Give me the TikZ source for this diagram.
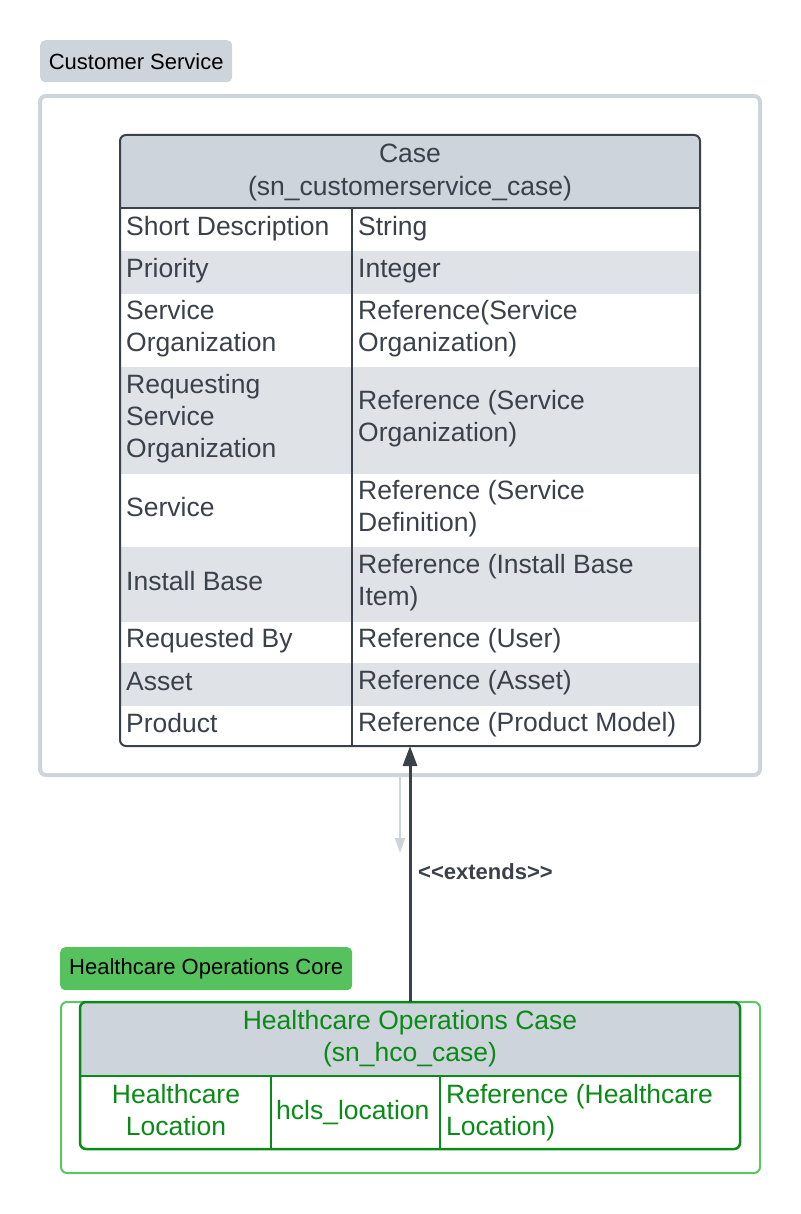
\documentclass[tikz,border=0pt]{standalone}
\usepackage{fontspec}
\setmainfont{Liberation Sans}
\usetikzlibrary{arrows.meta}
\definecolor{hdr}{HTML}{CED4DB}
\definecolor{stripe}{HTML}{DFE3E8}
\definecolor{ink}{HTML}{3A414A}
\definecolor{csline}{HTML}{CED4DB}
\definecolor{gfill}{HTML}{55C25E}
\definecolor{gline}{HTML}{5CC565}
\definecolor{gdark}{HTML}{0A8A17}
\begin{document}
\begin{tikzpicture}[x=1pt,y=-1pt,
  cell/.style={font=\fontsize{26.5}{32}\selectfont, text=ink, inner sep=0pt, align=left, anchor=west},
  gcell/.style={font=\fontsize{26.5}{32}\selectfont, text=gdark, inner sep=0pt, align=left, anchor=west},
  pkglabel/.style={font=\fontsize{22}{26}\selectfont, text=black, rounded corners=5, inner sep=0pt, anchor=north west},
  frame/.style={inner sep=0pt, outer sep=0pt, anchor=north west}]
\useasboundingbox (0,0) rectangle (800,1214);

% ---------- Customer Service package ----------
\node[pkglabel, fill=hdr, minimum width=192, minimum height=42] (cslabel) at (40,40) {Customer Service};
\node[frame, draw=csline, line width=4, rounded corners=6, minimum width=720, minimum height=679] (cs) at (40,96) {};

% Case table fills
\begin{scope}
  \clip[rounded corners=6] (120,135) rectangle (700,746);
  \fill[hdr] (120,135) rectangle (700,208.5);
  \fill[stripe] (120,251) rectangle (700,294);
  \fill[stripe] (120,367) rectangle (700,474);
  \fill[stripe] (120,547) rectangle (700,622);
  \fill[stripe] (120,663) rectangle (700,706);
\end{scope}
\node[frame, draw=ink, line width=2, rounded corners=6, minimum width=580, minimum height=611] (casetab) at (120,135) {};
\draw[ink, line width=2] (120,208.5) -- (700,208.5);
\draw[ink, line width=1.5] (352,208.5) -- (352,746);

\node[cell, anchor=center, align=center, font=\fontsize{26.5}{33}\selectfont] (casehdr) at (410,172.5) {Case\\(sn\_customerservice\_case)};

\node[cell] (l1) at (126,229) {Short Description};
\node[cell] (r1) at (358,229) {String};
\node[cell] (l2) at (126,271) {Priority};
\node[cell] (r2) at (358,271) {Integer};
\node[cell] (l3) at (126,329) {Service\\Organization};
\node[cell] (r3) at (358,329) {Reference(Service\\Organization)};
\node[cell] (l4) at (126,419) {Requesting\\Service\\Organization};
\node[cell] (r4) at (358,419) {Reference (Service\\Organization)};
\node[cell] (l5) at (126,507) {Service};
\node[cell] (r5) at (358,509) {Reference (Service\\Definition)};
\node[cell] (l6) at (126,581) {Install Base};
\node[cell] (r6) at (358,583) {Reference (Install Base\\Item)};
\node[cell] (l7) at (126,641) {Requested By};
\node[cell] (r7) at (358,641) {Reference (User)};
\node[cell] (l8) at (126,682) {Asset};
\node[cell] (r8) at (358,683) {Reference (Asset)};
\node[cell] (l9) at (126,723) {Product};
\node[cell] (r9) at (358,725) {Reference (Product Model)};

% ---------- Healthcare Operations Core package ----------
\node[pkglabel, fill=gfill, minimum width=292, minimum height=43] (hclabel) at (60,947) {Healthcare Operations Core};
\node[frame, draw=gline, line width=2, rounded corners=6, minimum width=699, minimum height=171] (hc) at (61,1002) {};

\begin{scope}
  \clip[rounded corners=6] (80,1002) rectangle (740,1149);
  \fill[hdr] (80,1002) rectangle (740,1076);
\end{scope}
\node[frame, draw=gdark, line width=2.5, rounded corners=6, minimum width=660, minimum height=147] (hcotab) at (80,1002) {};
\draw[gdark, line width=2.5] (80,1076) -- (740,1076);
\draw[gdark, line width=2] (271,1076) -- (271,1149);
\draw[gdark, line width=2] (440,1076) -- (440,1149);

\node[gcell, anchor=center, align=center] (hcohdr) at (410,1039) {Healthcare Operations Case\\(sn\_hco\_case)};
\node[gcell, anchor=center, align=center] (g1) at (176,1110) {Healthcare\\Location};
\node[gcell] (g2) at (276,1113) {hcls\_location};
\node[gcell] (g3) at (446,1113) {Reference (Healthcare\\Location)};

% ---------- connectors ----------
\coordinate (ax) at (410,900);
\coordinate (lend) at (400,853);
\draw[ink, line width=3, -{Triangle[length=20,width=14]}] (hcotab.north -| ax) -- (casetab.south -| ax);
\draw[csline, line width=1.5, -{Triangle[length=15,width=10]}] (cs.south -| lend) -- (lend);
\node[font=\fontsize{22}{26}\selectfont\bfseries, text=ink, inner sep=0pt, anchor=west] (ext) at (418,872) {<{}<extends>{}>};
\end{tikzpicture}
\end{document}
